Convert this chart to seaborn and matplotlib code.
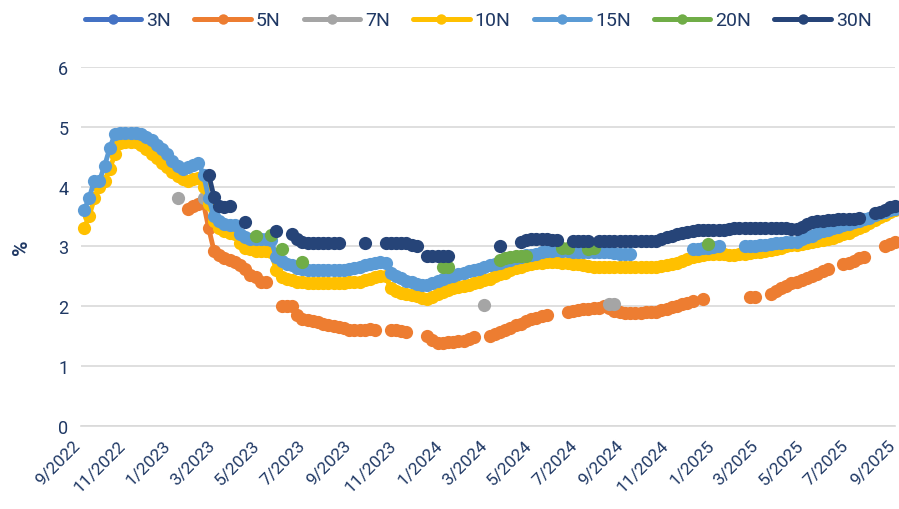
import pandas as pd
import matplotlib
matplotlib.use("Agg")
import matplotlib.pyplot as plt
import matplotlib.dates as mdates
import matplotlib.transforms as mtransforms
from matplotlib.lines import Line2D
from matplotlib.ticker import FuncFormatter
import seaborn as sns

# weekly grid, values in %
weeks = pd.date_range("2022-09-05", periods=157, freq="7D")
N = None

y10 = [3.30, 3.50, 3.80, 4.00, 4.10, 4.30, 4.55, 4.72, 4.75, 4.75,
       4.75, 4.70, 4.62, 4.55, 4.47, 4.40, 4.33, 4.25, 4.18, 4.12,
       4.10, 4.12, 4.15, 4.00, 3.70, 3.42, 3.30, 3.25, 3.22, 3.20,
       3.05, 2.97, 2.95, 2.93, 2.92, 2.92, 2.90, 2.60, 2.48, 2.45,
       2.43, 2.41, 2.40, 2.39, 2.38, 2.38, 2.38, 2.38, 2.38, 2.38,
       2.39, 2.40, 2.40, 2.41, 2.43, 2.45, 2.48, 2.50, 2.50, 2.30,
       2.25, 2.22, 2.20, 2.18, 2.17, 2.14, 2.12, 2.15, 2.20, 2.24,
       2.27, 2.30, 2.32, 2.34, 2.36, 2.38, 2.40, 2.43, 2.46, 2.50,
       2.53, 2.56, 2.60, 2.63, 2.66, 2.68, 2.70, 2.72, 2.73, 2.74,
       2.74, 2.74, 2.73, 2.72, 2.71, 2.70, 2.68, 2.67, 2.66, 2.66,
       2.66, 2.66, 2.65, 2.65, 2.65, 2.65, 2.66, 2.66, 2.66, 2.66,
       2.66, 2.67, 2.68, 2.70, 2.73, 2.76, 2.79, 2.82, 2.84, 2.86,
       2.87, 2.88, 2.88, 2.87, 2.86, 2.86, 2.87, 2.88, 2.89, 2.90,
       2.91, 2.92, 2.94, 2.96, 2.98, 3.00, 3.02, 3.03, 3.04, 3.05,
       3.07, 3.09, 3.11, 3.13, 3.14, 3.17, 3.20, 3.23, 3.27, 3.30,
       3.34, 3.39, 3.44, 3.49, 3.53, 3.57, 3.60]

y15 = [3.60, 3.80, 4.10, 4.10, 4.35, 4.65, 4.88, 4.90, 4.90, 4.90,
       4.90, 4.88, 4.82, 4.77, 4.70, 4.62, 4.55, 4.42, 4.35, 4.30,
       4.33, 4.36, 4.40, 4.20, 3.80, 3.50, 3.42, 3.38, 3.36, 3.35,
       3.20, 3.15, 3.13, 3.13, 3.13, 3.13, 3.10, 2.82, 2.75, 2.70,
       2.68, 2.64, 2.62, 2.60, 2.60, 2.60, 2.60, 2.60, 2.60, 2.60,
       2.61, 2.62, 2.63, 2.65, 2.68, 2.70, 2.72, 2.74, 2.72, 2.55,
       2.50, 2.47, 2.42, 2.40, 2.37, 2.36, 2.35, 2.38, 2.42, 2.46,
       2.49, 2.51, 2.53, 2.55, 2.58, 2.60, 2.62, 2.65, 2.68, 2.70,
       2.73, 2.75, 2.77, 2.80, 2.83, 2.85, 2.86, 2.88, 2.90, 2.92,
       2.93, 2.94, 2.93, 2.92, 2.91, 2.90, 2.90, 2.90, 2.90, 2.90,
       2.90, 2.90, 2.89, 2.88, 2.88, 2.88, N, N, N, N,
       N, N, N, N, N, N, N, 2.95, 2.96, 2.97,
       2.98, 2.99, 3.00, N, N, N, N, 3.00, 3.00, 3.01,
       3.02, 3.03, 3.04, 3.05, 3.06, 3.07, 3.07, 3.08, 3.12, 3.15,
       3.18, 3.22, 3.26, 3.28, 3.30, 3.33, 3.35, 3.37, 3.40, 3.42,
       3.45, 3.48, 3.52, 3.55, 3.58, 3.61, 3.63]

y5 = [N] * 20 + [
       3.63, 3.68, 3.70, 3.72, 3.30, 2.93, 2.85, 2.80, 2.78, 2.74,
       2.68, 2.62, 2.52, 2.49, 2.41, 2.40, N, N, 2.00, 2.00,
       2.00, 1.85, 1.79, 1.77, 1.75, 1.73, 1.71, 1.69, 1.67, 1.65,
       1.63, 1.61, 1.60, 1.60, 1.61, 1.62, 1.60, N, N, 1.60,
       1.60, 1.58, 1.57, N, N, N, 1.50, 1.43, 1.38, 1.38,
       1.40, 1.40, 1.41, 1.42, 1.45, 1.49, N, N, 1.50, 1.53,
       1.57, 1.60, 1.64, 1.68, 1.71, 1.75, 1.78, 1.81, 1.84, 1.85,
       N, N, N, 1.90, 1.92, 1.94, 1.95, 1.96, 1.97, 1.97,
       2.00, 1.97, 1.92, 1.90, 1.88, 1.88, 1.88, 1.89, 1.90, 1.90,
       1.91, 1.93, 1.95, 1.98, 2.00, 2.03, 2.06, 2.09, N, 2.12,
       N, N, N, N, N, N, N, N, 2.15, 2.15,
       N, N, 2.20, 2.25, 2.30, 2.34, 2.38, 2.41, 2.44, 2.47,
       2.50, 2.53, 2.58, 2.62, N, N, 2.70, 2.73, 2.76, 2.80,
       2.83, N, N, N, 3.00, 3.04, 3.08]

y30 = [N] * 24 + [
       4.20, 3.83, 3.68, 3.65, 3.68, N,
       N, 3.41, N, N, N, N, N, 3.26, N, N,
       3.21, 3.12, 3.08, 3.06, 3.06, 3.06, 3.06, 3.06, 3.06, 3.06,
       N, N, N, N, 3.06, N, N, N, 3.06, 3.06,
       3.06, 3.05, 3.05, 3.03, 3.00, N, 2.84, 2.84, 2.84, 2.84,
       2.84, N, N, N, N, N, N, N, N, N,
       3.01, N, N, N, 3.08, 3.10, 3.12, 3.12, 3.12, 3.12,
       3.11, 3.10, N, N, 3.09, 3.09, 3.09, 3.09, N, 3.09,
       3.09, 3.09, 3.09, 3.09, 3.09, 3.09, 3.09, 3.09, 3.09, 3.09,
       3.09, 3.12, 3.15, 3.18, 3.20, 3.22, 3.24, 3.26, 3.27, 3.28,
       3.28, 3.28, 3.28, 3.28, 3.29, 3.30, 3.31, 3.31, 3.30, 3.30,
       3.30, 3.30, 3.30, 3.30, 3.30, 3.30, 3.29, 3.29, 3.32, 3.38,
       3.41, 3.42, 3.43, 3.44, 3.44, 3.45, 3.45, 3.46, 3.46, 3.47,
       N, N, 3.55, 3.58, 3.61, 3.65, 3.68]

# sparse series: week index -> value
w20 = [33, 36, 38, 42, 69, 70, 80, 81, 82, 83, 84, 85, 92, 93, 97, 98, 120]
v20 = [3.18, 3.19, 2.96, 2.74, 2.66, 2.66, 2.78, 2.80, 2.82, 2.84, 2.84, 2.84,
       2.97, 2.98, 2.96, 2.97, 3.04]
w7 = [18, 23, 77, 101, 102]
v7 = [3.80, 3.80, 2.02, 2.04, 2.04]
y3 = [N] * 157  # hidden under the other series

names = ["3N", "5N", "7N", "10N", "15N", "20N", "30N"]
colors = ["#4472C4", "#ED7D31", "#A5A5A5", "#FFC000", "#5B9BD5", "#70AD47", "#264478"]


def sparse(idx, vals):
    out = [None] * len(weeks)
    for i, v in zip(idx, vals):
        out[i] = v
    return out


series = {"3N": y3, "5N": y5, "7N": sparse(w7, v7), "10N": y10,
          "15N": y15, "20N": sparse(w20, v20), "30N": y30}

rows = []
for name, vals in series.items():
    seg = 0
    prev = None
    for i, v in enumerate(vals):
        if v is None:
            prev = None
            continue
        if prev is None:
            seg += 1
        rows.append({"date": weeks[i], "rate": v, "tenor": name, "seg": seg})
        prev = v
df = pd.DataFrame(rows)

sns.set_theme(style="white")
plt.rcParams["font.family"] = ["Roboto", "DejaVu Sans"]
txt = "#1F3864"
grid = "#D9D9D9"

fig = plt.figure(figsize=(8.99, 5.10), dpi=100)
ax = fig.add_axes([0.090, 0.163, 0.906, 0.704])

for name, c in zip(names, colors):
    d = df[df["tenor"] == name]
    if d.empty:
        continue
    sns.lineplot(data=d, x="date", y="rate", units="seg", estimator=None,
                 color=c, marker="o", markersize=9.5, markeredgewidth=0,
                 linewidth=3.5, ax=ax, legend=False, clip_on=False)

ax.set_xlim(pd.Timestamp("2022-09-01"), pd.Timestamp("2025-09-01"))
ax.set_ylim(0, 6)
ax.set_yticks(range(0, 7))
ax.yaxis.grid(True, color=grid, linewidth=1.2)
ax.xaxis.grid(False)
for s in ["top", "right", "left"]:
    ax.spines[s].set_visible(False)
ax.spines["bottom"].set_color(grid)
ax.spines["bottom"].set_linewidth(1.2)

ax.xaxis.set_major_locator(mdates.MonthLocator(bymonth=[1, 3, 5, 7, 9, 11]))
ax.xaxis.set_major_formatter(FuncFormatter(
    lambda x, pos: f"{mdates.num2date(x).month}/{mdates.num2date(x).year}"))
ax.tick_params(axis="x", direction="out", length=6, width=1.2, color=grid,
               labelsize=12.5, labelcolor=txt, pad=2)
ax.tick_params(axis="y", length=0, labelsize=13, labelcolor=txt, pad=9)
shift = mtransforms.ScaledTranslation(-6 / 72, 0, fig.dpi_scale_trans)
for lab in ax.get_xticklabels():
    lab.set_rotation(45)
    lab.set_ha("right")
    lab.set_rotation_mode("anchor")
    lab.set_transform(lab.get_transform() + shift)

ax.set_xlabel("")
ax.set_ylabel("%", fontsize=15, color=txt, fontweight="bold", labelpad=20)

handles = [Line2D([], [], color=c, lw=3.6, marker="o", ms=7.5, mew=0) for c in colors]
fig.legend(handles, names, loc="upper center", bbox_to_anchor=(0.532, 1.01),
           ncol=7, frameon=False, fontsize=14, handlelength=2.9,
           handletextpad=0.25, columnspacing=1.2, labelcolor=txt)

fig.savefig("out.png", dpi=100)
